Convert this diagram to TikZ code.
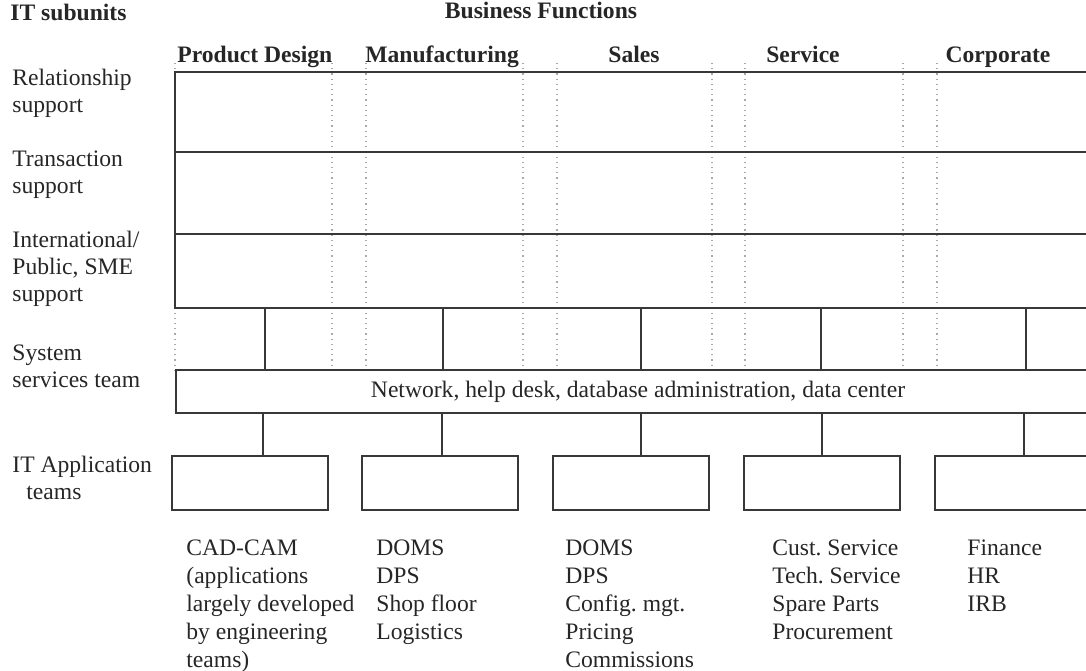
\documentclass[tikz,border=0pt]{standalone}
\usepackage{fontspec}
\setmainfont{Liberation Serif}
\frenchspacing

\definecolor{ink}{HTML}{262626}
\definecolor{rulegray}{HTML}{383838}
\definecolor{guidegray}{HTML}{A8A8A8}

\newcommand{\colstack}[1]{\begin{tabular}[t]{@{}l@{}}#1\end{tabular}}

\tikzset{
  txt/.style={text=ink, inner sep=0pt, font=\fontsize{11.8}{13.5}\selectfont},
  head/.style={txt, font=\bfseries\fontsize{11.8}{13.5}\selectfont, anchor=base},
  sidetext/.style={txt, anchor=base west},
  apptext/.style={txt, anchor=base west, font=\fontsize{11.8}{14}\selectfont},
  rule/.style={draw=rulegray, line width=0.9pt},
  guide/.style={draw=guidegray, line width=0.6pt, dotted},
  appbox/.style={rule, minimum width=78pt, minimum height=27pt, inner sep=0pt}
}

\begin{document}
\begin{tikzpicture}[x=0.5pt, y=-0.5pt]
    \useasboundingbox (0,0) rectangle (1086,670);
    \clip (0,0) rectangle (1086,670);

    \node[head, anchor=base west] (itsub) at (10,20) {IT subunits};
    \node[head] (bizfun) at (541,18) {Business Functions};
    \node[head, anchor=base west] (pdes) at (177,62) {Product Design};
    \node[head, anchor=base west] (manu) at (365,62) {Manufacturing};
    \node[head] (sales) at (634,62) {Sales};
    \node[head] (serv) at (803,62) {Service};
    \node[head] (corp) at (998,62) {Corporate};

    \draw[guide] (175,63) -- (175,370);
    \draw[guide] (332,63) -- (332,370);
    \draw[guide] (366,63) -- (366,370);
    \draw[guide] (523,63) -- (523,370);
    \draw[guide] (557,63) -- (557,370);
    \draw[guide] (712,63) -- (712,370);
    \draw[guide] (745,63) -- (745,370);
    \draw[guide] (903,63) -- (903,370);
    \draw[guide] (937,63) -- (937,370);

    \draw[rule] (1100,72) -- (175,72) -- (175,308) -- (1100,308);
    \draw[rule] (175,152) -- (1100,152);
    \draw[rule] (175,234) -- (1100,234);

    \node[sidetext] (relsup) at (12,85) {\colstack{Relationship\\support}};
    \node[sidetext] (transup) at (12,166) {\colstack{Transaction\\support}};
    \node[sidetext] (intsup) at (12,247) {\colstack{International/\\Public, SME\\support}};
    \node[sidetext] (systeam) at (12,360) {\colstack{System\\services team}};
    \node[sidetext] (appteam) at (12,472) {\colstack{IT Application\\\hspace*{7pt}teams}};

    \node[rule, txt, minimum width=462pt, minimum height=21.5pt] (sys) at (638,391.5)
        {Network, help desk, database administration, data center};

    \coordinate (pdtop) at (265,308);
    \coordinate (mftop) at (443,308);
    \coordinate (sltop) at (641,308);
    \coordinate (svtop) at (821,308);
    \coordinate (cptop) at (1026,308);
    \draw[rule] (pdtop) -- (pdtop |- sys.north);
    \draw[rule] (mftop) -- (mftop |- sys.north);
    \draw[rule] (sltop) -- (sltop |- sys.north);
    \draw[rule] (svtop) -- (svtop |- sys.north);
    \draw[rule] (cptop) -- (cptop |- sys.north);

    \node[appbox] (pdapp) at (250,483) {};
    \node[appbox] (mfapp) at (440,483) {};
    \node[appbox] (slapp) at (631,483) {};
    \node[appbox] (svapp) at (822,483) {};
    \node[appbox] (cpapp) at (1013,483) {};

    \coordinate (pdlow) at (263,413);
    \coordinate (mflow) at (442,413);
    \coordinate (sllow) at (641,413);
    \coordinate (svlow) at (822,413);
    \coordinate (cplow) at (1024,413);
    \draw[rule] (pdlow) -- (pdlow |- pdapp.north);
    \draw[rule] (mflow) -- (mflow |- mfapp.north);
    \draw[rule] (sllow) -- (sllow |- slapp.north);
    \draw[rule] (svlow) -- (svlow |- svapp.north);
    \draw[rule] (cplow) -- (cplow |- cpapp.north);

    \node[apptext] (pdlist) at (186,555) {\colstack{CAD-CAM\\(applications\\largely developed\\by engineering\\teams)}};
    \node[apptext] (mflist) at (376,555) {\colstack{DOMS\\DPS\\Shop floor\\Logistics}};
    \node[apptext] (sllist) at (565,555) {\colstack{DOMS\\DPS\\Config. mgt.\\Pricing\\Commissions}};
    \node[apptext] (svlist) at (772,555) {\colstack{Cust. Service\\Tech. Service\\Spare Parts\\Procurement}};
    \node[apptext] (cplist) at (967,555) {\colstack{Finance\\HR\\IRB}};
\end{tikzpicture}
\end{document}
